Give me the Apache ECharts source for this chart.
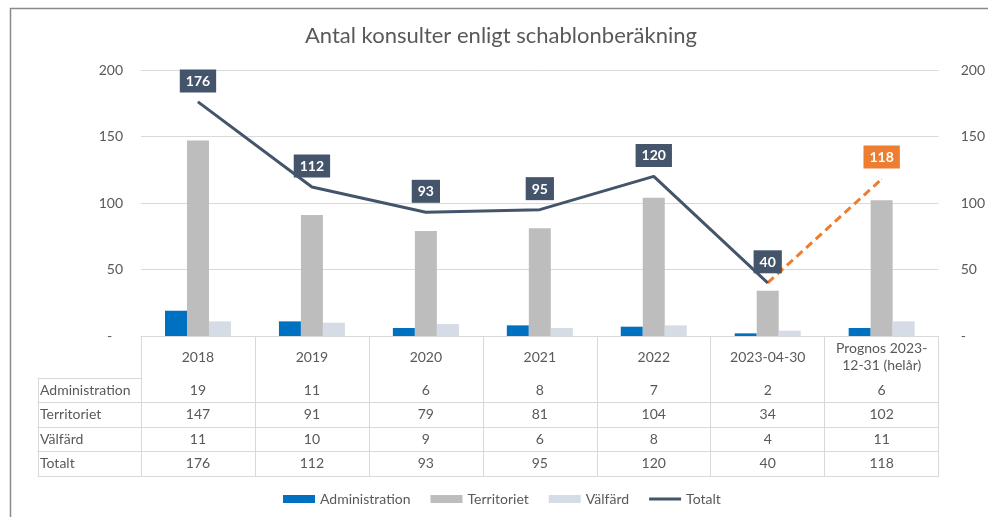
<!DOCTYPE html>
<html>
<head>
<meta charset="utf-8">
<script src="https://cdn.jsdelivr.net/npm/echarts@6/dist/echarts.min.js"></script>
<style>
html, body { margin: 0; padding: 0; background: #fff; }
#chart { width: 988px; height: 517px; }
</style>
</head>
<body>
<div id="chart"></div>
<script>
// kategorier och värden
var categories = ['2018', '2019', '2020', '2021', '2022', '2023-04-30', 'Prognos 2023-\n12-31 (helår)'];
var rowNames = ['Administration', 'Territoriet', 'Välfärd', 'Totalt'];
var administration = [19, 11, 6, 8, 7, 2, 6];
var territoriet = [147, 91, 79, 81, 104, 34, 102];
var valfard = [11, 10, 9, 6, 8, 4, 11];
var totalt = [176, 112, 93, 95, 120, 40, 118];
var yTicks = [0, 50, 100, 150, 200];

var txt = '#595959';
var lineCol = '#d9d9d9';
var font = 'Lato';
var tableRows = [administration, territoriet, valfard, totalt];

// utfall (solid) och prognos (streckad)
var lastActual = 5;
var actual = totalt.map(function (v, i) { return i <= lastActual ? v : '-'; });
var forecast = totalt.map(function (v, i) {
	if (i === lastActual) return { value: v, label: { show: false } };
	return i > lastActual ? v : '-';
});

var chart = echarts.init(document.getElementById('chart'));

// x-axlar: kategorier + tabellrader
var xAxes = [{
	gridIndex: 0,
	type: 'category',
	data: categories,
	axisLine: { lineStyle: { color: lineCol } },
	axisTick: { show: true, interval: 0, length: 140, lineStyle: { color: lineCol } },
	axisLabel: { interval: 0, margin: 21, verticalAlign: 'middle', lineHeight: 17, fontSize: 14, color: txt, fontFamily: font }
}];
var rowOffsets = [42, 66, 91, 115];
tableRows.forEach(function (row, k) {
	xAxes.push({
		gridIndex: 0,
		type: 'category',
		position: 'bottom',
		offset: rowOffsets[k],
		data: categories,
		axisLine: { lineStyle: { color: lineCol } },
		axisTick: { show: false },
		axisLabel: {
			interval: 0, margin: 12, verticalAlign: 'middle', fontSize: 14, color: txt, fontFamily: font,
			formatter: function (v, i) { return String(row[i]); }
		}
	});
});
xAxes.push({
	gridIndex: 0, type: 'category', position: 'bottom', offset: 140, data: categories,
	axisLine: { lineStyle: { color: lineCol } }, axisTick: { show: false }, axisLabel: { show: false }
});

// radnamnskolumn
var nameOffsets = [0, 24, 49, 73, 98];
nameOffsets.forEach(function (off, k) {
	xAxes.push({
		gridIndex: 1,
		type: 'category',
		position: 'bottom',
		offset: off,
		data: [''],
		axisLine: { lineStyle: { color: lineCol } },
		axisTick: { show: k === 0, interval: 0, length: 98, lineStyle: { color: lineCol } },
		axisLabel: { show: false },
		name: rowNames[k] || '',
		nameLocation: 'start',
		nameGap: -2,
		nameTextStyle: { align: 'left', verticalAlign: 'top', padding: [5, 0, 0, 0], fontSize: 14, color: txt, fontFamily: font }
	});
});

function yLab(v) { return v === 0 ? '-   ' : String(v); }

var option = {
	animation: false,
	textStyle: { fontFamily: font },
	title: {
		text: 'Antal konsulter enligt schablonberäkning',
		left: 305, top: 25, padding: 0,
		textStyle: { fontSize: 22, fontWeight: 'normal', color: txt, fontFamily: font }
	},
	legend: {
		left: 283, top: 492, padding: 0,
		itemWidth: 32, itemHeight: 8, itemGap: 20,
		textStyle: { fontSize: 14, color: txt, fontFamily: font },
		data: [
			{ name: 'Administration', icon: 'rect' },
			{ name: 'Territoriet', icon: 'rect' },
			{ name: 'Välfärd', icon: 'rect' },
			{ name: 'Totalt', icon: 'path://M0,0M0,2.5L32,2.5L32,5.5L0,5.5ZM32,8' }
		]
	},
	graphic: [{
		type: 'rect', silent: true,
		shape: { x: 10.5, y: 8.5, width: 990, height: 520 },
		style: { fill: 'none', stroke: '#8a8a8a', lineWidth: 1.5 }
	}],
	grid: [
		{ left: 141, right: 48, top: 70, bottom: 181 },
		{ left: 38, right: 847, top: 330, bottom: 139 }
	],
	xAxis: xAxes,
	yAxis: [{
		gridIndex: 0, type: 'value', min: 0, max: 200, interval: 50,
		axisLine: { show: false }, axisTick: { show: false },
		splitLine: { lineStyle: { color: lineCol } },
		axisLabel: { margin: 18, fontSize: 14, color: txt, fontFamily: font, formatter: yLab }
	}, {
		gridIndex: 0, type: 'value', position: 'right', min: 0, max: 200, interval: 50,
		axisLine: { show: false }, axisTick: { show: false }, splitLine: { show: false },
		axisLabel: { margin: 22, fontSize: 14, color: txt, fontFamily: font, formatter: function (v) { return v === 0 ? '-' : String(v); } }
	}, {
		gridIndex: 1, type: 'value', show: false
	}],
	series: [
		{ name: 'Administration', type: 'bar', xAxisIndex: 0, yAxisIndex: 0, barWidth: 22, barGap: '0%', itemStyle: { color: '#0070C0' }, data: administration },
		{ name: 'Territoriet', type: 'bar', xAxisIndex: 0, yAxisIndex: 0, barWidth: 22, barGap: '0%', itemStyle: { color: '#BDBDBD' }, data: territoriet },
		{ name: 'Välfärd', type: 'bar', xAxisIndex: 0, yAxisIndex: 0, barWidth: 22, barGap: '0%', itemStyle: { color: '#D6DCE5' }, data: valfard },
		{
			name: 'Totalt', type: 'line', xAxisIndex: 0, yAxisIndex: 0, data: actual,
			symbol: 'circle', symbolSize: 1, z: 5,
			lineStyle: { color: '#44546A', width: 3 }, itemStyle: { color: '#44546A' },
			label: {
				show: true, position: 'top', distance: 9,
				backgroundColor: '#44546A', color: '#fff', fontWeight: 'bold', fontSize: 14,
				padding: [5, 6, 4, 6], fontFamily: font
			}
		},
		{
			name: 'Prognos', type: 'line', xAxisIndex: 0, yAxisIndex: 0, data: forecast,
			symbol: 'circle', symbolSize: 1, z: 4,
			lineStyle: { color: '#ED7D31', width: 3, type: [8, 5] }, itemStyle: { color: '#ED7D31' },
			label: {
				show: true, position: 'top', distance: 10,
				backgroundColor: '#ED7D31', color: '#fff', fontWeight: 'bold', fontSize: 14,
				padding: [5, 6, 4, 6], fontFamily: font
			}
		}
	]
};

chart.setOption(option);
</script>
</body>
</html>
